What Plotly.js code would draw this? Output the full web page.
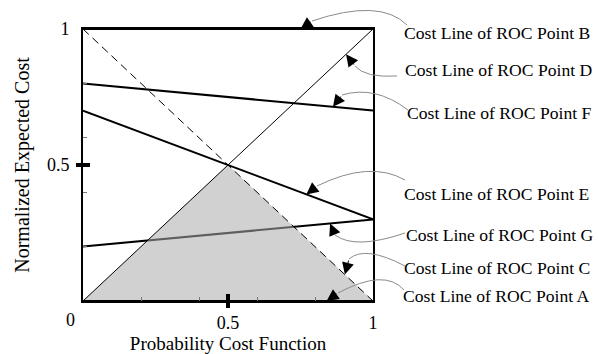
<!DOCTYPE html>
<html><head><meta charset="utf-8">
<script src="https://cdn.plot.ly/plotly-3.0.1.min.js"></script>
<style>html,body{margin:0;padding:0;background:#fff}#chart{width:598px;height:354px}</style>
</head><body><div id="chart"></div>
<script>
// ---- data ----
const pointNames   = ['A', 'B', 'C', 'D', 'E', 'F', 'G'];
const costAtPC0    = [0, 1, 1, 0, 0.7, 0.8, 0.2];   // normalized expected cost at PC = 0 (FPR)
const costAtPC1    = [0, 1, 0, 1, 0.3, 0.7, 0.3];   // normalized expected cost at PC = 1 (1 - TPR)
const pcEnds       = [0, 1];
const envelopeX    = [0, 0.5, 1, 0];
const envelopeY    = [0, 0.5, 0, 0];
const arrowPC      = [0.84, 0.75, 0.903, 0.907, 0.77, 0.862, 0.852];
const xTickVals    = [0.5, 1];
const xTickText    = ['0.5', '1'];
const yTickVals    = [0.5, 1];
const yTickText    = ['0.5', '1'];
const boldTickX    = [0, 0.5];
const boldTickY    = [0.5, 0];
const labelOrder   = ['B', 'D', 'F', 'E', 'G', 'C', 'A'];

// ---- layout geometry (pixels) ----
const W = 598, H = 354, L = 83, R = 373, T = 29, B = 301;
const toPaperX = px => (px - L) / (R - L);
const toPaperY = py => (B - py) / (B - T);
const dataToPx = (x, y) => [L + x * (R - L), B - y * (B - T)];

const FONT = 'Liberation Serif, Times New Roman, serif';

const styles = {
  A: {width: 2, dash: 'solid'},
  B: {width: 2, dash: 'solid'},
  C: {width: 1, dash: '8px,5px'},
  D: {width: 1, dash: 'solid'},
  E: {width: 2, dash: 'solid'},
  F: {width: 2, dash: 'solid'},
  G: {width: 2, dash: 'solid'}
};
const idx = n => pointNames.indexOf(n);
const lineTrace = n => ({
  type: 'scatter', mode: 'lines', x: pcEnds, y: [costAtPC0[idx(n)], costAtPC1[idx(n)]],
  line: {color: '#000', width: styles[n].width, dash: styles[n].dash},
  cliponaxis: false, hoverinfo: 'skip', name: 'Cost Line of ROC Point ' + n
});

const traces = [];
['B', 'E', 'F', 'G'].forEach(n => traces.push(lineTrace(n)));
traces.push({
  type: 'scatter', mode: 'lines', x: envelopeX, y: envelopeY, fill: 'toself',
  fillcolor: 'rgba(172,172,172,0.55)', line: {width: 0, color: 'rgba(0,0,0,0)'}, hoverinfo: 'skip'
});
['A', 'C', 'D'].forEach(n => traces.push(lineTrace(n)));
traces.push({
  type: 'scatter', mode: 'markers', x: boldTickX, y: boldTickY, cliponaxis: false,
  marker: {symbol: ['line-ew', 'line-ns'], size: 10, line: {width: 4, color: '#000'}},
  hoverinfo: 'skip'
});

// leader curves (arrow base -> control -> label side), in pixels
const leaders = {
  B: [[312, 21], [380, -2], [407, 25]],
  D: [[355, 66], [365, 78], [397, 76]],
  F: [[342, 95], [375, 85], [408, 110]],
  E: [[317, 186], [370, 160], [405, 180]],
  G: [[335, 235], [355, 250], [405, 233]],
  C: [[349, 259], [365, 245], [405, 266]],
  A: [[338, 293], [385, 268], [404, 290]]
};
const labelPos = {B: [405, 33], D: [406, 70], F: [408, 113], E: [405, 194], G: [407, 235], C: [405, 268], A: [404, 296]};

const shapes = [];
const annotations = [];
labelOrder.forEach(n => {
  const c = leaders[n];
  const p = c.map(q => toPaperX(q[0]).toFixed(4) + ',' + toPaperY(q[1]).toFixed(4));
  shapes.push({type: 'path', xref: 'paper', yref: 'paper',
    path: 'M' + p[0] + ' Q' + p[1] + ' ' + p[2], line: {color: '#8a8a8a', width: 1}});
  const i = idx(n);
  const tx = arrowPC[i];
  const ty = costAtPC0[i] + (costAtPC1[i] - costAtPC0[i]) * tx;
  const tp = dataToPx(tx, ty);
  annotations.push({x: tx, y: ty, xref: 'x', yref: 'y', text: '', showarrow: true,
    ax: c[0][0] - tp[0], ay: c[0][1] - tp[1], axref: 'pixel', ayref: 'pixel',
    arrowhead: 2, arrowsize: 2.4, arrowwidth: 1, arrowcolor: '#000', standoff: 0});
  annotations.push({x: toPaperX(labelPos[n][0]), y: toPaperY(labelPos[n][1]), xref: 'paper', yref: 'paper',
    xanchor: 'left', yanchor: 'middle', xshift: -3, showarrow: false, text: 'Cost Line of ROC Point ' + n,
    font: {family: FONT, size: 17.6, color: '#000'}});
});
annotations.push({x: 0, y: 0, xref: 'paper', yref: 'paper', text: '0', showarrow: false,
  xanchor: 'center', yanchor: 'top', xshift: -13, yshift: -7, font: {family: FONT, size: 18, color: '#000'}});

const axisCommon = {
  range: [0, 1], showgrid: false, zeroline: false, showline: true, mirror: true,
  linecolor: '#000', linewidth: 2, ticks: '', tickmode: 'array', fixedrange: true,
  tickfont: {family: FONT, size: 18, color: '#000'},
  minor: {tickmode: 'array', tickvals: [0.2, 0.4, 0.6, 0.8], ticks: 'inside', ticklen: 4, tickwidth: 1, tickcolor: '#777'}
};

const layout = {
  width: W, height: H,
  margin: {l: L, r: W - R, t: T, b: H - B, pad: 0},
  paper_bgcolor: '#fff', plot_bgcolor: '#fff', showlegend: false,
  font: {family: FONT, color: '#000'},
  xaxis: Object.assign({}, axisCommon, {tickvals: xTickVals, ticktext: xTickText, ticklabelstandoff: 4,
    title: {text: 'Probability Cost Function', font: {family: FONT, size: 19, color: '#000'}, standoff: 5}}),
  yaxis: Object.assign({}, axisCommon, {tickvals: yTickVals, ticktext: yTickText, ticklabelstandoff: 8,
    title: {text: 'Normalized Expected Cost', font: {family: FONT, size: 20, color: '#000'}, standoff: 12}}),
  shapes: shapes, annotations: annotations
};

Plotly.newPlot('chart', traces, layout, {displayModeBar: false, staticPlot: true});
</script>
</body></html>
